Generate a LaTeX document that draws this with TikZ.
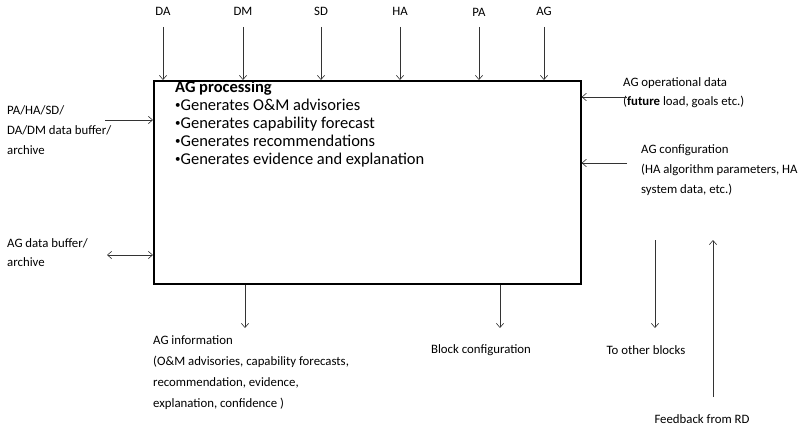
\documentclass[tikz,border=0pt]{standalone}
\usepackage{fontspec}
\setmainfont{Carlito}
\usetikzlibrary{arrows.meta,positioning}

\newcommand{\bul}{{\fontsize{11}{11}\selectfont\raisebox{1.8pt}{\textbullet}}}

\begin{document}
\begin{tikzpicture}[
x=1pt,y=-1pt,
lbl/.style={font=\fontsize{12.8}{20}\selectfont,align=left,inner sep=0pt},
arrow/.style={-{Straight Barb[length=1.5mm,width=2.6mm]},draw=black!80,line width=0.6pt},
dblarrow/.style={{Straight Barb[length=1.5mm,width=2.6mm]}-{Straight Barb[length=1.5mm,width=2.6mm]},draw=black!80,line width=0.6pt}
]
\useasboundingbox (0,0) rectangle (806,428);
\node[draw,line width=1.6pt,minimum width=427pt,minimum height=203pt,anchor=north west,inner sep=0pt] (proc) at (153,80) {};
\node[anchor=base west,align=left,inner sep=0pt,font=\fontsize{16.5}{18}\selectfont] (ptext) at (175,164) {\textbf{AG processing}\\\bul Generates O\&M advisories\\\bul Generates capability forecast\\\bul Generates recommendations\\\bul Generates evidence and explanation};
% inputs from the top
\node[lbl] (da) at (163,11) {DA};
\node[lbl] (dm) at (243,11) {DM};
\node[lbl] (sd) at (321,11) {SD};
\node[lbl] (ha) at (400,11) {HA};
\node[lbl] (pa) at (479,12) {PA};
\node[lbl] (ag) at (544,11) {AG};
\draw[arrow] ([yshift=-16pt]da.center)--(da |- proc.north);
\draw[arrow] ([yshift=-16pt]dm.center)--(dm |- proc.north);
\draw[arrow] ([yshift=-16pt]sd.center)--(sd |- proc.north);
\draw[arrow] ([yshift=-16pt]ha.center)--(ha |- proc.north);
\draw[arrow] ([yshift=-15pt]pa.center)--(pa |- proc.north);
\draw[arrow] ([yshift=-16pt]ag.center)--(ag |- proc.north);
% left side
\node[lbl,anchor=base west] (buf) at (7,154) {PA/HA/SD/\\DA/DM data buffer/\\archive};
\coordinate (bufin) at (105,120);
\draw[arrow] (bufin)--(bufin -| proc.west);
\node[lbl,anchor=base west,font=\fontsize{12.8}{19}\selectfont] (agbuf) at (7,266) {AG data buffer/\\archive};
\coordinate (agbufend) at (107,255);
\draw[dblarrow] (agbufend)--(agbufend -| proc.west);
% right side
\node[lbl,anchor=base west,font=\fontsize{12.8}{19}\selectfont] (opdata) at (623,105) {AG operational data\\(\textbf{future} load, goals etc.)};
\coordinate (opin) at (627,97);
\draw[arrow] (opin)--(opin -| proc.east);
\node[lbl,anchor=base west] (agcfg) at (641,193) {AG configuration\\(HA algorithm parameters, HA\\system data, etc.)};
\coordinate (cfgin) at (627,163);
\draw[arrow] (cfgin)--(cfgin -| proc.east);
% outputs at the bottom
\coordinate (infoout) at (245,328);
\draw[arrow] (infoout |- proc.south)--(infoout);
\node[lbl,anchor=base west,font=\fontsize{12.8}{21}\selectfont] (info) at (153,407) {AG information\\(O\&M advisories, capability forecasts,\\recommendation, evidence,\\explanation, confidence )};
\coordinate (blkout) at (500,328);
\draw[arrow] (blkout |- proc.south)--(blkout);
\node[lbl] (blkcfg) at (481,350) {Block configuration};
\coordinate (otop) at (655,240);
\coordinate (obot) at (655,328);
\draw[arrow] (otop)--(obot);
\node[lbl] (other) at (646,350) {To other blocks};
\coordinate (fbot) at (713,397);
\coordinate (ftop) at (713,240);
\draw[arrow] (fbot)--(ftop);
\node[lbl] (fb) at (702,419) {Feedback from RD};
\end{tikzpicture}
\end{document}
